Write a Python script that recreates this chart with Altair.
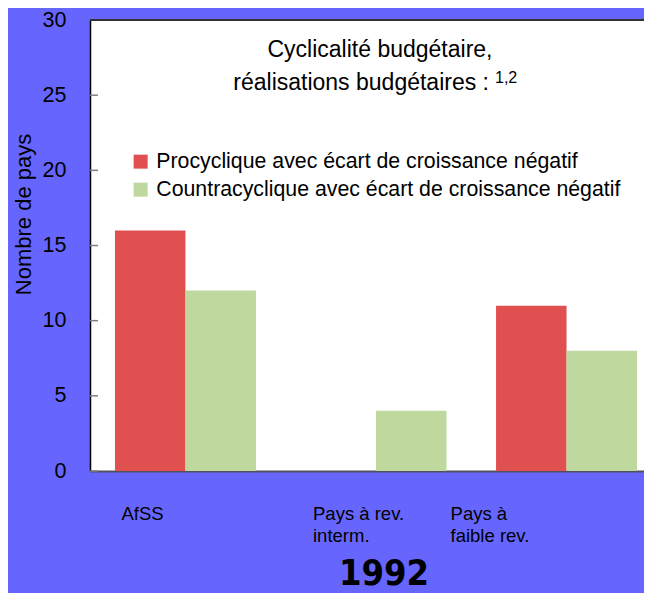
import altair as alt
import pandas as pd

categories = ["AfSS", "Pays à rev. interm.", "Pays à faible rev."]
category_labels = ["AfSS", "Pays à rev.\n interm.", "  Pays à\nfaible rev."]
series = ["Procyclique avec écart de croissance négatif",
          "Countracyclique avec écart de croissance négatif"]
procyclique = [16, 0, 11]
contracyclique = [12, 4, 8]
y_ticks = [0, 5, 10, 15, 20, 25, 30]
colors = ["#E05050", "#BFD89E"]

rows = []
for i, c in enumerate(categories):
    rows.append({"cat": c, "serie": series[0], "val": procyclique[i]})
    rows.append({"cat": c, "serie": series[1], "val": contracyclique[i]})
df = pd.DataFrame(rows)
lab_df = pd.DataFrame({"cat": categories, "label": category_labels})
tick_df = pd.DataFrame({"val": y_ticks})
one_df = pd.DataFrame({"k": [0]})

FONT = "Liberation Sans"
W, H = 554, 451

xscale = alt.Scale(domain=categories, range=[0, 572], paddingInner=0.26, paddingOuter=0.131)
yscale = alt.Scale(domain=[0, 30], nice=False)
y_axis = alt.Axis(values=y_ticks, grid=False, ticks=False, tickSize=0,
                  labelPadding=24, labelFontSize=21.5, labelColor="black",
                  labelFont=FONT, domainColor="black", domainWidth=1.5,
                  title="Nombre de pays", titleFontSize=22,
                  titleFontWeight="normal", titleColor="black",
                  titleFont=FONT, titleAngle=-90, titleAlign="center",
                  titleBaseline="middle", titleX=-67, titleY=194)

bars = alt.Chart(df).mark_bar().encode(
    x=alt.X("cat:N", scale=xscale, sort=categories,
            axis=alt.Axis(labels=False, ticks=False, title=None,
                          domainColor="#505060", domainWidth=2)),
    xOffset=alt.XOffset("serie:N", sort=series,
                        scale=alt.Scale(paddingInner=0, paddingOuter=0)),
    y=alt.Y("val:Q", scale=yscale, axis=y_axis),
    color=alt.Color("serie:N", sort=series,
                    scale=alt.Scale(domain=series, range=colors),
                    legend=alt.Legend(title=None, orient="none", legendX=40,
                                      legendY=131, symbolType="square",
                                      symbolSize=196, symbolStrokeWidth=0,
                                      labelFontSize=21.3, labelFont=FONT,
                                      labelColor="black", labelLimit=0,
                                      labelOffset=5, rowPadding=6, padding=0)),
)

ticks = alt.Chart(tick_df).mark_rule(color="#808080", strokeWidth=1.5).encode(
    y=alt.Y("val:Q", scale=yscale, axis=y_axis), x=alt.value(0), x2=alt.value(8)
)

top_line = alt.Chart(one_df).mark_rule(color="#333333", strokeWidth=2).encode(
    y=alt.value(0), x=alt.value(0), x2=alt.value(W)
)

def cat_label(i, dx):
    return alt.Chart(lab_df).transform_filter(
        alt.datum.cat == categories[i]
    ).mark_text(align="left", baseline="top", fontSize=18.5, font=FONT,
                color="black", lineBreak="\n", lineHeight=22, dx=dx).encode(
        x=alt.X("cat:N", scale=xscale, sort=categories),
        y=alt.value(485),
        text="label:N",
    )

labels = [cat_label(0, -64), cat_label(1, -63), cat_label(2, -116)]

title1 = alt.Chart(one_df).mark_text(
    text="Cyclicalité budgétaire,", fontSize=23, font=FONT, color="black",
    align="center", baseline="middle"
).encode(x=alt.value(290), y=alt.value(30))
title2 = alt.Chart(one_df).mark_text(
    text="réalisations budgétaires :", fontSize=23, font=FONT, color="black",
    align="right", baseline="middle"
).encode(x=alt.value(399), y=alt.value(63))
title_sup = alt.Chart(one_df).mark_text(
    text="1,2", fontSize=16, font=FONT, color="black",
    align="left", baseline="top"
).encode(x=alt.value(405), y=alt.value(50))
year = alt.Chart(one_df).mark_text(
    text="1992", fontSize=36, font="DejaVu Sans Condensed", fontWeight="bold",
    color="black", align="center", baseline="middle"
).encode(x=alt.value(294), y=alt.value(554))

chart = alt.layer(
    bars, ticks, top_line, *labels, title1, title2, title_sup, year
).properties(
    width=W, height=H,
    padding={"left": 82, "top": 12, "right": 0, "bottom": 122},
    autosize=alt.AutoSizeParams(type="none"),
    background="#6666FF",
).configure(
    font=FONT
).configure_view(
    fill="white", stroke=None
)

chart.save("out.html", embed_options={"renderer": "svg", "actions": False})
